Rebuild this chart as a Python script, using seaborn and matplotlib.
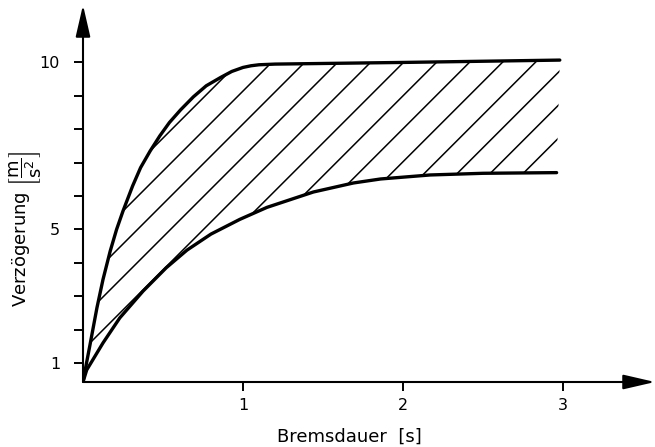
import matplotlib
matplotlib.use("Agg")
import matplotlib.pyplot as plt
import numpy as np
import seaborn as sns

# Bremsdauer [s] -> Verzögerung [m/s^2]
upper_t = [0.0, 0.022, 0.044, 0.087, 0.125, 0.17, 0.21, 0.25, 0.31, 0.36,
           0.42, 0.48, 0.54, 0.61, 0.69, 0.77, 0.86, 0.93, 1.0, 1.05,
           1.1, 1.2, 2.0, 2.98]
upper_a = [0.43, 1.0, 1.55, 2.65, 3.5, 4.35, 5.0, 5.55, 6.3, 6.85,
           7.35, 7.8, 8.2, 8.58, 8.97, 9.3, 9.55, 9.73, 9.85, 9.9,
           9.93, 9.95, 10.0, 10.07]

lower_t = [0.0, 0.023, 0.125, 0.23, 0.375, 0.52, 0.65, 0.8, 0.98, 1.15,
           1.44, 1.69, 1.86, 2.17, 2.5, 2.96]
lower_a = [0.43, 0.79, 1.6, 2.35, 3.15, 3.85, 4.38, 4.86, 5.3, 5.66,
           6.12, 6.39, 6.51, 6.63, 6.68, 6.7]

x_ticks = [1, 2, 3]
y_ticks = list(range(1, 11))
y_tick_labels = ["1", "", "", "", "5", "", "", "", "", "10"]

sns.set_theme(style="ticks")
plt.rcParams["font.family"] = ["DejaVu Sans"]
plt.rcParams["mathtext.default"] = "regular"

fig = plt.figure(figsize=(6.55, 4.47), dpi=100)
ax = fig.add_axes([83 / 655, 65 / 447, 572 / 655, 374 / 447])
ax.set_xlim(0, 3.575)
ax.set_ylim(0.43, 11.63)

# band between the two curves, used only as clip for the hatching
band = ax.fill(np.concatenate([upper_t, lower_t[::-1]]),
               np.concatenate([upper_a, lower_a[::-1]]),
               facecolor="none", edgecolor="none")[0]

# 45 deg hatch (in pixels), ~33 px apart
slope = (374 / 11.2) ** -1 * (572 / 3.575)
for c in np.arange(-0.6125 - 0.206 * 8, 3.2, 0.206):
    ln, = ax.plot([c, c + 2.5], [0.43, 0.43 + 2.5 * slope],
                  color="black", lw=1.1, solid_capstyle="butt")
    ln.set_clip_path(band)

sns.lineplot(x=upper_t, y=upper_a, ax=ax, color="black", lw=2.4, sort=False)
sns.lineplot(x=lower_t, y=lower_a, ax=ax, color="black", lw=2.4, sort=False)

for s in ax.spines.values():
    s.set_visible(False)

arrow = dict(arrowstyle="-|>,head_length=1.3,head_width=0.3",
             mutation_scale=15, lw=1.5, color="black", shrinkA=0, shrinkB=0)
ax.annotate("", xy=(1, 0), xytext=(0, 0), xycoords="axes fraction",
            arrowprops=arrow, annotation_clip=False)
ax.annotate("", xy=(0, 1.008), xytext=(0, 0), xycoords="axes fraction",
            arrowprops=arrow, annotation_clip=False)

ax.set_xticks(x_ticks)
ax.set_yticks(y_ticks)
ax.set_yticklabels(y_tick_labels)
ax.tick_params(axis="both", direction="out", length=6.5, width=1.4,
               color="black", labelcolor="black", labelsize=11.5)
ax.tick_params(axis="y", pad=10)
ax.tick_params(axis="x", pad=5)
ax.tick_params(top=False, right=False)

ax.set_xlabel("Bremsdauer  [s]", fontsize=13, color="black")
ax.xaxis.set_label_coords(0.465, -0.122)
ax.set_ylabel(r"Verzögerung $\left[\dfrac{m}{s^2}\right]$", fontsize=13,
              color="black")
ax.yaxis.set_label_coords(-0.07, 0.41)

fig.savefig("out.png", dpi=100)
